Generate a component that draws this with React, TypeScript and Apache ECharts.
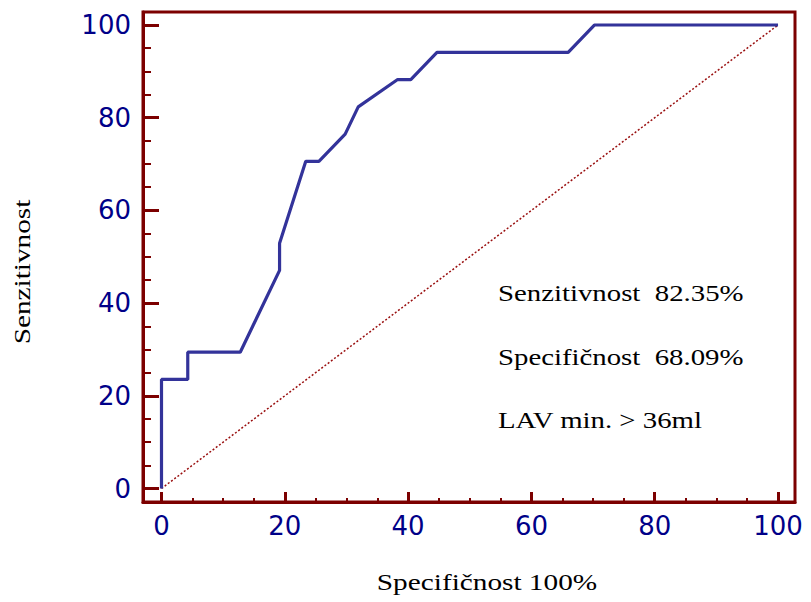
import React, { useEffect, useRef } from "react";
import * as echarts from "echarts";

// ROC curve points: x = 100 - specificity (%), y = sensitivity (%)
const rocX = [0, 0, 4.26, 4.26, 12.77, 14.89, 19.15, 19.15, 23.4, 25.53, 29.79, 31.91, 38.3, 40.43, 44.68, 65.96, 70.21, 100];
const rocY = [0, 23.53, 23.53, 29.41, 29.41, 35.29, 47.06, 52.94, 70.59, 70.59, 76.47, 82.35, 88.24, 88.24, 94.12, 94.12, 100, 100];
const diagX = [0, 100];
const diagY = [0, 100];
const majorTicks = [0, 20, 40, 60, 80, 100];
const minorTicks = [5, 10, 15, 25, 30, 35, 45, 50, 55, 65, 70, 75, 85, 90, 95];
const xTitle = "Specifičnost 100%";
const yTitle = "Senzitivnost";
const notes = ["Senzitivnost  82.35%", "Specifičnost  68.09%", "LAV min. > 36ml"];

const AXIS_RED = "#7c0000";
const NAVY = "#000088";
const LINE_BLUE = "#33339a";

export default function App() {
  const ref = useRef<HTMLDivElement>(null);
  useEffect(() => {
    if (!ref.current) return;
    const chart = echarts.init(ref.current, null, { renderer: "svg" });
    const labelStyle = { fontFamily: "DejaVu Sans", fontSize: 26, color: NAVY };
    const mkAxis = (
      major: boolean,
      pos: string,
      min: number,
      max: number,
      tickLen: number,
      labelMargin: number
    ) => ({
      type: "value",
      position: pos,
      min,
      max,
      splitLine: { show: false },
      axisLine: { show: major, onZero: false, lineStyle: { color: AXIS_RED, width: 3 } },
      axisTick: {
        show: true,
        inside: true,
        length: tickLen,
        customValues: major ? majorTicks : minorTicks,
        lineStyle: { color: AXIS_RED, width: major ? 3 : 2 },
      },
      axisLabel: major
        ? { show: true, customValues: majorTicks, margin: labelMargin, ...labelStyle }
        : { show: false },
    });
    const serif = "Liberation Serif";
    const textStyle = (text: string, align: string) => ({
      text,
      fill: "#000",
      font: `24px "${serif}"`,
      fontFamily: serif,
      fontSize: 24,
      align,
      verticalAlign: "middle",
    });
    chart.setOption({
      animation: false,
      backgroundColor: "#fff",
      grid: {
        left: 143,
        right: 16,
        top: 12,
        bottom: 100,
        show: true,
        borderColor: AXIS_RED,
        borderWidth: 3,
        containLabel: false,
      },
      xAxis: [
        mkAxis(true, "bottom", -3, 102.75, 10, 11),
        mkAxis(false, "bottom", -3, 102.75, 4, 11),
      ],
      yAxis: [
        mkAxis(true, "left", -2.91, 102.81, 16, 12),
        mkAxis(false, "left", -2.91, 102.81, 8, 12),
      ],
      series: [
        {
          type: "line",
          xAxisIndex: 0,
          yAxisIndex: 0,
          data: diagX.map((x, i) => [x, diagY[i]]),
          showSymbol: false,
          symbol: "none",
          lineStyle: { color: "#9a1010", width: 1.5, type: [2, 2] },
          z: 2,
        },
        {
          type: "line",
          xAxisIndex: 0,
          yAxisIndex: 0,
          data: rocX.map((x, i) => [x, rocY[i]]),
          showSymbol: false,
          symbol: "none",
          lineStyle: { color: LINE_BLUE, width: 3.2 },
          z: 3,
        },
      ],
      graphic: [
        {
          type: "text",
          x: 22,
          y: 272,
          rotation: Math.PI / 2,
          scaleX: 1.22,
          style: textStyle(yTitle, "center"),
        },
        {
          type: "text",
          x: 487,
          y: 582,
          scaleX: 1.22,
          style: textStyle(xTitle, "center"),
        },
        ...notes.map((t, i) => ({
          type: "text",
          x: 498,
          y: 293 + i * 63.5,
          scaleX: 1.2,
          style: textStyle(t, "left"),
        })),
      ],
    });
    return () => chart.dispose();
  }, []);
  return (
    <div
      ref={ref}
      style={{ position: "fixed", left: 0, top: 0, width: 811, height: 602 }}
    />
  );
}
